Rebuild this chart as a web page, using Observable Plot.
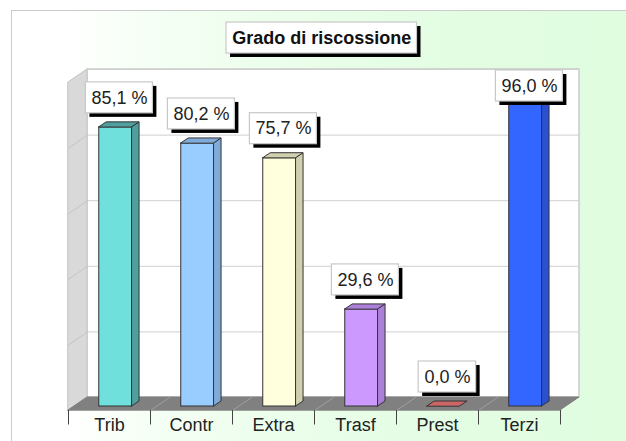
<!DOCTYPE html>
<html><head><meta charset="utf-8">
<script src="https://cdn.jsdelivr.net/npm/d3@7"></script>
<script src="https://cdn.jsdelivr.net/npm/@observablehq/plot@0.6"></script>
<style>
html,body{margin:0;padding:0;background:#fff;width:626px;height:441px;overflow:hidden}
#panel{position:absolute;left:11px;top:10px;right:0;bottom:0;border-left:1.5px solid #cbcbcb;border-top:1.5px solid #cbcbcb;
background:linear-gradient(90deg,#fff 0,#fff 52px,#f6fff6 130px,#ecfeec 260px,#e4fde4 400px,#e0fde0 100%)}
#chart{position:absolute;left:0;top:0}
svg{background:transparent!important}
</style></head><body>
<div id="panel"></div><div id="chart"></div>
<script>
const title = "Grado di riscossione";
const categories = ["Trib","Contr","Extra","Trasf","Prest","Terzi"];
const values = [85.1,80.2,75.7,29.6,0.0,96.0];
const fills = ["#70e0dc","#99ccff","#ffffdd","#cc99ff","#cc6666","#3366ff"];
const shades = ["#4f9f9f","#80aad8","#d0d0b0","#ac80d8","#aa5555","#2b50d0"];
const gridValues = [0,20,40,60,80,100];

// chart geometry, in scale units (1 category slot wide; y in percent)
const pxY = 3.28, pxX = 82;
const depthX = 7.5/pxX, depthY = 5/pxY;
const wallX = 19/pxX, wallBack = 9/pxY, wallFront = -4/pxY;
const barL = 0.375, barW = 0.4;
const boxH = 31/pxY, boxGap = 14/pxY, boxTop = (406-70)/pxY;
const n = categories.length;
const label = v => v.toFixed(1).replace(".", ",") + " %";

const marks = [];
const style = {stroke:"#333", strokeWidth:1};

// walls
marks.push(Plot.rect([0],{x1:wallX,x2:n+wallX,y1:wallBack,y2:100+wallBack,fill:"#fff",stroke:"#c4c4c4",strokeWidth:1.3}));
marks.push(Plot.areaY([0,wallX],{x:d=>d,y1:d=>d?wallBack:wallFront,y2:d=>(d?wallBack:wallFront)+100,fill:"#d9d9d9",stroke:"#c4c4c4",strokeWidth:1}));
marks.push(Plot.ruleY(gridValues,{x1:wallX,x2:n+wallX,y:d=>d+wallBack,stroke:"#cfcfcf",strokeWidth:1}));
for (const g of gridValues.slice(1,-1)) marks.push(Plot.line([0,wallX],{x:d=>d,y:d=>g+(d?wallBack:wallFront),stroke:"#c4c4c4",strokeWidth:1}));
// floor
marks.push(Plot.areaX([0,1],{y:d=>d?wallBack:wallFront,x1:d=>d?wallX:0,x2:d=>d?n+wallX:n,fill:"#808080",stroke:"#808080"}));
for (let i=1;i<n;i++) marks.push(Plot.line([0,1],{x:d=>i+(d?wallX:0),y:d=>d?wallBack:wallFront,stroke:"#a0a0a0",strokeWidth:1}));
// ticks and category labels
marks.push(Plot.ruleX(d3.range(n+1),{y1:wallFront,y2:wallFront-14.5/pxY,stroke:"#444",strokeWidth:1}));
marks.push(Plot.text(categories,{x:(d,i)=>i+0.5,y:wallFront-15/pxY,text:d=>d,fontSize:18,fontFamily:"Liberation Sans",fill:"#222"}));

// bars
values.forEach((v,i)=>{
  const l=i+barL, r=l+barW;
  if (v>0){
    marks.push(Plot.areaY([0,1],{x:d=>r+d*depthX,y1:d=>d*depthY,y2:d=>v+d*depthY,fill:shades[i],...style}));
    marks.push(Plot.rect([v],{x1:l,x2:r,y1:0,y2:d=>d,fill:fills[i],...style}));
  }
  marks.push(Plot.areaX([0,1],{y:d=>v+d*depthY,x1:d=>l+d*depthX,x2:d=>r+d*depthX,fill:v>0?shades[i]:fills[i],...style}));
});

// value labels
const boxes = values.map((v,i)=>{
  const lo = Math.min(v+boxGap, boxTop-boxH);
  const w = (v>=10?67:57.5)/pxX, c = i+barL+barW/2+3.75/pxX;
  return {v, x1:c-w/2, x2:c+w/2, y1:lo, y2:lo+boxH, c};
});
marks.push(Plot.rect(boxes,{x1:"x1",x2:"x2",y1:"y1",y2:"y2",fill:"#000",dx:4,dy:4}));
marks.push(Plot.rect(boxes,{x1:"x1",x2:"x2",y1:"y1",y2:"y2",fill:"#fff",stroke:"#c8c8c8",strokeWidth:1.2}));
marks.push(Plot.text(boxes,{x:"c",y:d=>(d.y1+d.y2)/2,text:d=>label(d.v),fontSize:18,fontFamily:"Liberation Sans",fill:"#222"}));

// title
const tx1=(226-68)/pxX, tx2=(416.5-68)/pxX, ty1=(406-53)/pxY, ty2=(406-22)/pxY;
marks.push(Plot.rect([0],{x1:tx1,x2:tx2,y1:ty1,y2:ty2,fill:"#000",dx:4,dy:4}));
marks.push(Plot.rect([0],{x1:tx1,x2:tx2,y1:ty1,y2:ty2,fill:"#fff",stroke:"#c8c8c8",strokeWidth:1.2}));
marks.push(Plot.text([title],{x:(tx1+tx2)/2,y:(ty1+ty2)/2,text:d=>d,fontSize:18,fontWeight:"bold",fontFamily:"Liberation Sans",fill:"#111"}));

const plot = Plot.plot({
  width:626,height:441,margin:0,
  x:{axis:null,domain:[-68/pxX,(626-68)/pxX],range:[0,626]},
  y:{axis:null,domain:[(406-441)/pxY,406/pxY],range:[441,0]},
  marks
});
document.getElementById("chart").appendChild(plot);
</script></body></html>
